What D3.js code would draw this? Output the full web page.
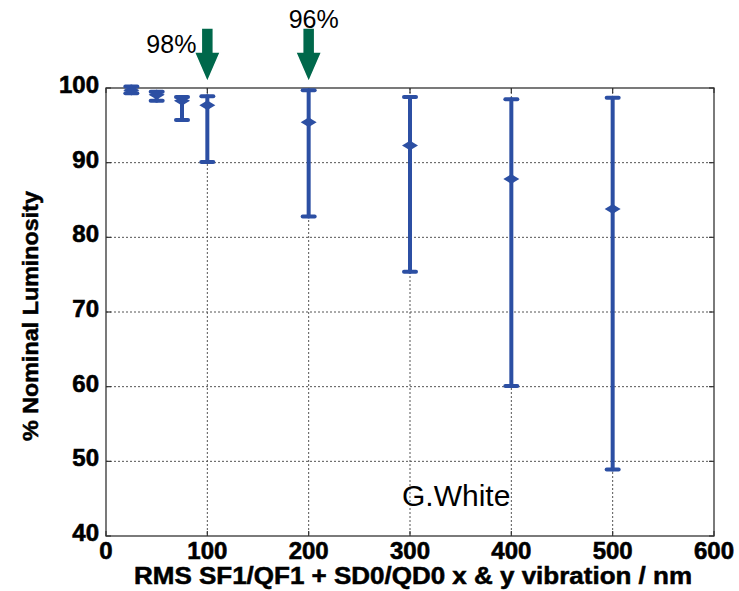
<!DOCTYPE html>
<html lang="en">
<head>
  <meta charset="UTF-8">
  <title>Luminosity vs vibration</title>
  <style>
    body { margin: 0; background: #fff; }
    .tick-label { font-family: "Liberation Sans", Arial, sans-serif; font-weight: bold; font-size: 24px; fill: #000; stroke: #000; stroke-width: 0.6; }
    .axis-title { font-family: "Liberation Sans", Arial, sans-serif; font-weight: bold; fill: #000; stroke: #000; stroke-width: 0.5; }
    .note { font-family: "Liberation Sans", Arial, sans-serif; fill: #000; }
    .grid { stroke: #555; stroke-width: 1; stroke-dasharray: 2,2; }
  </style>
</head>
<body>
  <script src="https://d3js.org/d3.v7.min.js"></script>
  <script>
    // vibration amplitude (nm) and luminosity stats (% nominal)
    const vibration = [25, 50, 75, 100, 200, 300, 400, 500];
    const meanLumi  = [99.7, 99.1, 98.3, 97.7, 95.4, 92.3, 87.8, 83.8];
    const upperLumi = [100.2, 99.5, 98.8, 98.9, 99.7, 98.8, 98.5, 98.7];
    const lowerLumi = [99.3, 98.3, 95.7, 90.1, 82.8, 75.4, 60.1, 48.9];

    const xTicks = [0, 100, 200, 300, 400, 500, 600];
    const yTicks = [40, 50, 60, 70, 80, 90, 100];

    // annotations
    const arrowsAt = [100, 200];
    const arrowLabels = ['98%', '96%'];

    const width = 739, height = 591;
    const mLeft = 106, mRight = 714, mTop = 88, mBottom = 536;

    const svg = d3.select('body').append('svg')
      .attr('width', width)
      .attr('height', height);

    const x = d3.scaleLinear().domain([0, 600]).range([mLeft, mRight]);
    const y = d3.scaleLinear().domain([40, 100]).range([mBottom, mTop]);

    // grid lines
    svg.selectAll('.vgrid')
      .data(xTicks.filter(d => d > 0 && d < 600))
      .enter().append('line')
      .attr('class', 'grid')
      .attr('x1', d => x(d)).attr('x2', d => x(d))
      .attr('y1', mTop).attr('y2', mBottom);

    svg.selectAll('.hgrid')
      .data(yTicks.filter(d => d > 40 && d < 100))
      .enter().append('line')
      .attr('class', 'grid')
      .attr('x1', mLeft).attr('x2', mRight)
      .attr('y1', d => y(d)).attr('y2', d => y(d));

    // inward ticks on all four sides
    const tickLen = 5;
    const ticks = svg.append('g').attr('stroke', '#333').attr('stroke-width', 1.2);
    xTicks.forEach(d => {
      ticks.append('line').attr('x1', x(d)).attr('x2', x(d)).attr('y1', mBottom).attr('y2', mBottom - tickLen);
      ticks.append('line').attr('x1', x(d)).attr('x2', x(d)).attr('y1', mTop).attr('y2', mTop + tickLen);
    });
    yTicks.forEach(d => {
      ticks.append('line').attr('x1', mLeft).attr('x2', mLeft + tickLen).attr('y1', y(d)).attr('y2', y(d));
      ticks.append('line').attr('x1', mRight).attr('x2', mRight - tickLen).attr('y1', y(d)).attr('y2', y(d));
    });

    // frame
    svg.append('rect')
      .attr('x', mLeft).attr('y', mTop)
      .attr('width', mRight - mLeft).attr('height', mBottom - mTop)
      .attr('fill', 'none').attr('stroke', '#333').attr('stroke-width', 1.3);

    // tick labels
    svg.selectAll('.xlab')
      .data(xTicks)
      .enter().append('text')
      .attr('class', 'tick-label')
      .attr('x', d => x(d))
      .attr('y', mBottom + 23)
      .attr('text-anchor', 'middle')
      .text(d => d);

    svg.selectAll('.ylab')
      .data(yTicks)
      .enter().append('text')
      .attr('class', 'tick-label')
      .attr('x', mLeft - 7)
      .attr('y', d => y(d) + 5)
      .attr('text-anchor', 'end')
      .text(d => d);

    // axis titles
    svg.append('text')
      .attr('class', 'axis-title')
      .attr('x', 134)
      .attr('y', 584)
      .attr('font-size', 23)
      .attr('textLength', 558)
      .attr('lengthAdjust', 'spacingAndGlyphs')
      .text('RMS SF1/QF1 + SD0/QD0 x & y vibration / nm');

    svg.append('text')
      .attr('class', 'axis-title')
      .attr('transform', `translate(38, ${(mTop + mBottom) / 2 + 4}) rotate(-90)`)
      .attr('text-anchor', 'middle')
      .attr('font-size', 22)
      .attr('textLength', 250)
      .attr('lengthAdjust', 'spacingAndGlyphs')
      .text('% Nominal Luminosity');

    // error bars
    const blue = '#2c4fa3';
    const pts = vibration.map((v, i) => ({ v, m: meanLumi[i], hi: upperLumi[i], lo: lowerLumi[i] }));
    const bars = svg.append('g').attr('stroke', blue).attr('stroke-linecap', 'round');

    bars.selectAll('.stem')
      .data(pts)
      .enter().append('line')
      .attr('stroke-width', 4)
      .attr('x1', d => x(d.v)).attr('x2', d => x(d.v))
      .attr('y1', d => y(d.hi)).attr('y2', d => y(d.lo));

    const capW = 6;
    ['hi', 'lo'].forEach(k => {
      bars.selectAll('.cap-' + k)
        .data(pts)
        .enter().append('line')
        .attr('stroke-width', 4)
        .attr('x1', d => x(d.v) - capW).attr('x2', d => x(d.v) + capW)
        .attr('y1', d => y(d[k])).attr('y2', d => y(d[k]));
    });

    bars.selectAll('.mean')
      .data(pts)
      .enter().append('path')
      .attr('stroke', 'none')
      .attr('fill', blue)
      .attr('d', d => {
        const cx = x(d.v), cy = y(d.m);
        return `M${cx - 8},${cy} L${cx - 3},${cy - 3} L${cx},${cy - 5} L${cx + 3},${cy - 3} L${cx + 8},${cy} ` +
               `L${cx + 3},${cy + 3} L${cx},${cy + 5} L${cx - 3},${cy + 3} Z`;
      });

    // green arrows
    const green = '#00684b';
    arrowsAt.forEach((v, i) => {
      const cx = x(v), tip = mTop - 6, headTop = tip - 30, shaftTop = tip - 54;
      svg.append('path')
        .attr('fill', green)
        .attr('stroke', '#fff')
        .attr('stroke-width', 1.5)
        .attr('d', `M${cx - 6},${shaftTop} L${cx + 6},${shaftTop} L${cx + 6},${headTop} L${cx + 13},${headTop} ` +
                   `L${cx},${tip} L${cx - 13},${headTop} L${cx - 6},${headTop} Z`);
    });

    svg.append('text').attr('class', 'note').attr('font-size', 25)
      .attr('x', x(arrowsAt[0]) - 61).attr('y', 53).text(arrowLabels[0]);
    svg.append('text').attr('class', 'note').attr('font-size', 25)
      .attr('x', x(arrowsAt[1]) - 20).attr('y', 28).text(arrowLabels[1]);

    svg.append('text').attr('class', 'note').attr('font-size', 30)
      .attr('x', 402).attr('y', 506).text('G.White');
  </script>
</body>
</html>
